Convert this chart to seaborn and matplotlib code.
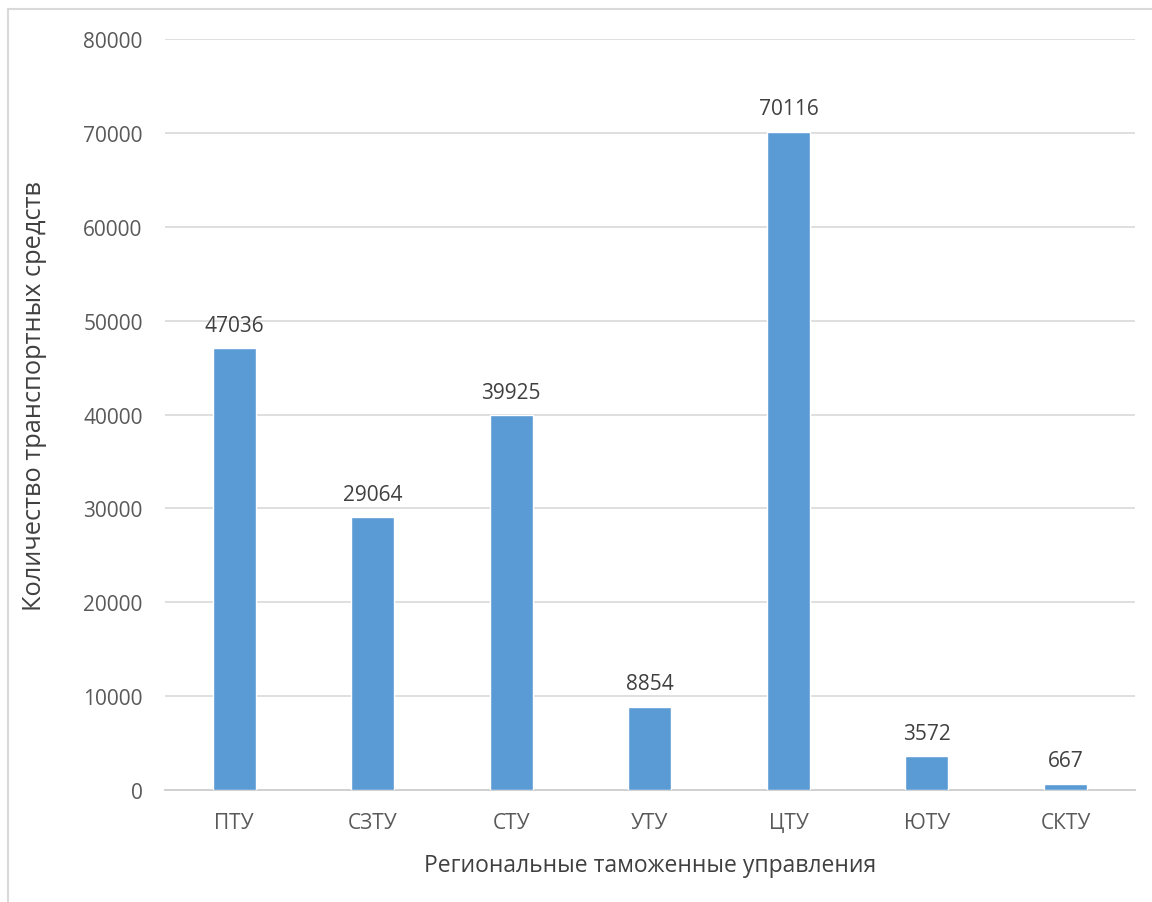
import matplotlib.pyplot as plt
import matplotlib.lines as mlines
import seaborn as sns
import pandas as pd

# Data
regions = ["ПТУ", "СЗТУ", "СТУ", "УТУ", "ЦТУ", "ЮТУ", "СКТУ"]
vehicles = [47036, 29064, 39925, 8854, 70116, 3572, 667]
y_ticks = [0, 10000, 20000, 30000, 40000, 50000, 60000, 70000, 80000]

df = pd.DataFrame({"region": regions, "count": vehicles})

sns.set_style("white")
plt.rcParams['font.family'] = ['Open Sans', 'DejaVu Sans']
text_color = "#595959"

fig = plt.figure(figsize=(11.52, 9.03), dpi=100)
ax = fig.add_axes([0.1432, 0.124, 0.8418, 0.8317])

sns.barplot(data=df, x="region", y="count", color="#5B9BD5", width=0.31,
            saturation=1, ax=ax, zorder=3)

ax.set_ylim(0, 80000)
ax.set_yticks(y_ticks)
ax.set_xlim(-0.5, len(regions) - 0.5)
ax.grid(axis="y", color="#D9D9D9", linewidth=1.2, zorder=0)
for s in ["top", "right", "left"]:
    ax.spines[s].set_visible(False)
ax.spines["bottom"].set_color("#D0D0D0")
ax.spines["bottom"].set_linewidth(1.4)
ax.tick_params(axis="both", length=0, labelsize=15, colors=text_color)
ax.tick_params(axis="x", pad=16)
ax.tick_params(axis="y", pad=16)

for container in ax.containers:
    ax.bar_label(container, fmt="%d", padding=9, fontsize=15, color="#404040")

ax.set_xlabel("Региональные таможенные управления", fontsize=16.5, color="#404040", labelpad=14)
ax.set_ylabel("Количество транспортных средств", fontsize=18.3, color="#404040")
ax.yaxis.set_label_coords(-0.122, 0.526)

# outer chart frame (left and top edges visible in the crop)
fig.add_artist(mlines.Line2D([8 / 1152, 8 / 1152], [0, 1 - 10 / 903],
                             transform=fig.transFigure, color="#D9D9D9", linewidth=1.5))
fig.add_artist(mlines.Line2D([8 / 1152, 1], [1 - 10 / 903, 1 - 10 / 903],
                             transform=fig.transFigure, color="#D9D9D9", linewidth=1.5))

fig.savefig("out.png", dpi=100)
